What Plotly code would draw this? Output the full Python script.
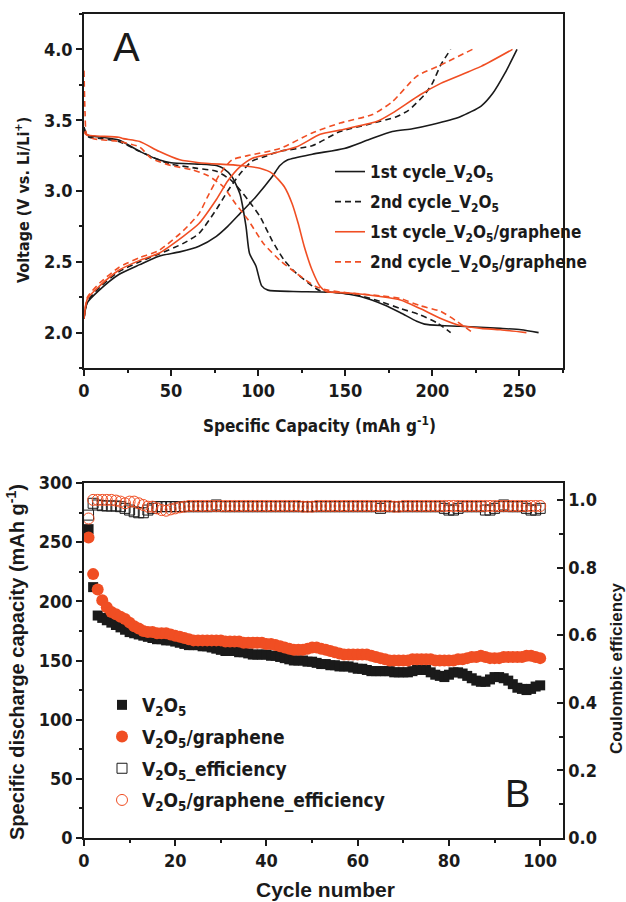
import plotly.graph_objects as go

# ---------------- Panel A data (Specific capacity vs voltage) ----------------
v1_dis_cap = [0, 0.5, 1.5, 3, 10, 20, 32, 43, 50, 65, 76, 80, 85, 89.5, 93, 95, 98.7, 102, 105.6, 120, 142.5, 158.7, 172.5, 181.7, 191, 195.5, 204.8, 216, 239, 251, 261]
v1_dis_v = [3.45, 3.42, 3.40, 3.39, 3.38, 3.36, 3.28, 3.22, 3.20, 3.19, 3.18, 3.16, 3.10, 2.98, 2.75, 2.56, 2.47, 2.33, 2.30, 2.29, 2.285, 2.255, 2.195, 2.14, 2.08, 2.06, 2.05, 2.045, 2.03, 2.02, 2.0]
v1_ch_cap = [0, 1.8, 8.8, 20, 32, 43, 55, 66, 76, 82.5, 89.5, 98.7, 108, 112.5, 117, 131, 149.4, 163, 177, 188.6, 200, 216, 228, 234.7, 241.6, 248.6]
v1_ch_v = [2.10, 2.21, 2.30, 2.41, 2.48, 2.54, 2.57, 2.61, 2.68, 2.75, 2.84, 2.96, 3.10, 3.18, 3.22, 3.26, 3.30, 3.36, 3.42, 3.44, 3.47, 3.525, 3.60, 3.69, 3.83, 4.0]

v2_dis_cap = [0, 0.5, 1.5, 3, 10, 20, 32, 43, 50, 65, 76, 85, 94, 101, 108, 115, 121.8, 131, 135.6, 147, 158.7, 170, 181.7, 193, 202.5, 210.5]
v2_dis_v = [3.45, 3.43, 3.40, 3.38, 3.37, 3.35, 3.28, 3.22, 3.19, 3.16, 3.14, 3.07, 2.94, 2.82, 2.65, 2.51, 2.42, 2.33, 2.295, 2.28, 2.26, 2.22, 2.17, 2.125, 2.07, 2.0]
v2_ch_cap = [0, 2, 9, 20, 32, 43, 57, 66, 76, 82.5, 89.5, 96.4, 103, 112.5, 131, 147, 163, 179.4, 186.3, 195.5, 200, 204.8, 210.5]
v2_ch_v = [2.10, 2.22, 2.32, 2.43, 2.50, 2.555, 2.63, 2.70, 2.87, 3.00, 3.12, 3.21, 3.24, 3.28, 3.32, 3.42, 3.47, 3.525, 3.57, 3.68, 3.76, 3.89, 4.0]

g1_dis_cap = [0, 1, 5, 20, 22.6, 32, 43, 55, 66, 89.5, 101, 108, 115, 119.5, 123, 126.4, 131, 135.6, 139, 152, 170, 181.7, 193, 204.8, 216, 228, 239, 254]
g1_dis_v = [3.42, 3.40, 3.39, 3.38, 3.37, 3.35, 3.28, 3.22, 3.20, 3.18, 3.16, 3.125, 3.03, 2.91, 2.77, 2.61, 2.44, 2.325, 2.29, 2.28, 2.255, 2.23, 2.17, 2.10, 2.05, 2.03, 2.02, 2.0]
g1_ch_cap = [0, 2, 9, 20, 32, 43, 57, 66, 76, 82.5, 89.5, 96.4, 108, 121.8, 135.6, 147, 168, 177, 193, 204.8, 228, 246]
g1_ch_v = [2.10, 2.24, 2.33, 2.44, 2.51, 2.56, 2.68, 2.77, 2.94, 3.07, 3.17, 3.23, 3.265, 3.31, 3.40, 3.43, 3.49, 3.55, 3.68, 3.76, 3.88, 4.0]

g2_dis_cap = [0, 0.6, 1.5, 5, 20, 32, 38.7, 50, 62, 71, 80, 87, 94, 103, 112.5, 121.8, 133, 140, 152, 170, 181.7, 193, 204.8, 214, 223]
g2_dis_v = [3.85, 3.55, 3.40, 3.37, 3.35, 3.31, 3.23, 3.18, 3.15, 3.11, 3.03, 2.91, 2.80, 2.63, 2.51, 2.42, 2.325, 2.30, 2.28, 2.26, 2.24, 2.19, 2.15, 2.08, 2.0]
g2_ch_cap = [0, 2, 9, 20, 32, 43, 57, 66, 71, 78, 85, 94, 112.5, 131, 147, 165.6, 177, 191, 204.8, 223]
g2_ch_v = [2.10, 2.25, 2.35, 2.46, 2.53, 2.58, 2.72, 2.84, 2.96, 3.12, 3.22, 3.25, 3.30, 3.41, 3.48, 3.54, 3.63, 3.81, 3.89, 4.0]

# ---------------- Panel B data (cycling) ----------------
cycles = list(range(1, 101))
cap_v2o5 = [261, 212, 188, 186, 184, 182, 180, 178, 176, 174,
            173, 172, 171, 170, 169, 168, 168, 167, 167, 166,
            165, 164, 163, 163, 163, 162, 162, 161, 160, 159,
            158, 158, 158, 157, 157, 156, 155, 155, 155, 155,
            154, 154, 153, 152, 151, 150, 150, 150, 149, 149,
            148, 147, 147, 146, 146, 145, 145, 145, 144, 143,
            143, 142, 141, 141, 141, 141, 141, 140, 140, 140,
            140, 141, 142, 142, 142, 140, 138, 137, 136, 138,
            140, 140, 139, 137, 135, 133, 132, 132, 134, 136,
            136, 135, 133, 130, 127, 126, 125, 126, 128, 129]
cap_graphene = [254, 223, 210, 201, 195, 191, 189, 187, 185, 182,
                179, 177, 175, 174, 174, 173, 173, 173, 172, 171,
                170, 169, 168, 167, 167, 167, 167, 167, 167, 167,
                166, 166, 166, 166, 165, 165, 165, 165, 165, 164,
                164, 163, 162, 161, 160, 159, 159, 159, 160, 161,
                161, 160, 159, 158, 157, 156, 155, 155, 155, 155,
                155, 155, 154, 153, 152, 151, 150, 150, 150, 150,
                150, 151, 151, 151, 151, 151, 150, 150, 150, 150,
                150, 151, 151, 152, 153, 153, 154, 153, 152, 152,
                152, 153, 153, 153, 153, 153, 154, 154, 153, 152]
eff_v2o5 = [0.955, 0.99, 0.985, 0.983, 0.982, 0.982, 0.982, 0.98, 0.975, 0.97,
            0.965, 0.962, 0.962, 0.97, 0.975, 0.98, 0.98, 0.98, 0.98, 0.98,
            0.98, 0.98, 0.98, 0.98, 0.98, 0.98, 0.98, 0.98, 0.985, 0.98,
            0.98, 0.98, 0.98, 0.98, 0.98, 0.98, 0.98, 0.98, 0.98, 0.98,
            0.98, 0.98, 0.98, 0.98, 0.98, 0.98, 0.98, 0.98, 0.98, 0.98,
            0.98, 0.98, 0.98, 0.98, 0.98, 0.98, 0.98, 0.98, 0.98, 0.98,
            0.98, 0.98, 0.98, 0.98, 0.975, 0.98, 0.98, 0.98, 0.98, 0.98,
            0.98, 0.98, 0.98, 0.98, 0.98, 0.98, 0.98, 0.98, 0.975, 0.97,
            0.97, 0.975, 0.98, 0.98, 0.98, 0.98, 0.98, 0.97, 0.97, 0.975,
            0.98, 0.985, 0.98, 0.98, 0.98, 0.98, 0.975, 0.97, 0.97, 0.975]
eff_graphene = [0.945, 1.0, 1.0, 1.0, 1.0, 1.0, 0.998, 0.995, 0.99, 0.995,
                0.995, 0.99, 0.985, 0.98, 0.98, 0.975, 0.97, 0.968, 0.972, 0.975,
                0.978, 0.98, 0.982, 0.982, 0.982, 0.982, 0.982, 0.982, 0.982, 0.982,
                0.982, 0.982, 0.982, 0.982, 0.982, 0.982, 0.982, 0.982, 0.982, 0.982,
                0.982, 0.982, 0.982, 0.982, 0.982, 0.982, 0.982, 0.98, 0.98, 0.98,
                0.982, 0.982, 0.982, 0.982, 0.982, 0.982, 0.982, 0.982, 0.982, 0.982,
                0.982, 0.982, 0.982, 0.982, 0.982, 0.982, 0.982, 0.98, 0.98, 0.982,
                0.982, 0.982, 0.982, 0.982, 0.982, 0.982, 0.982, 0.982, 0.982, 0.982,
                0.982, 0.982, 0.982, 0.982, 0.982, 0.982, 0.982, 0.982, 0.982, 0.982,
                0.982, 0.982, 0.982, 0.982, 0.982, 0.982, 0.982, 0.982, 0.982, 0.982]

BLACK = "#1a1a1a"
RED = "#f04e23"
NARROW = "DejaVu Sans Condensed, DejaVu Sans, sans-serif"
ARIAL = "Liberation Sans, Arial, sans-serif"
DASH = "6px,4px"

# figure geometry (pixels)
L, R, T, B = 84, 63, 14, 64
PW, PH = 626 - L - R, 902 - T - B

def px(xp):
    return (xp - L) / PW

def py(yp):
    return (902 - B - yp) / PH

fig = go.Figure()

def add_pair(cap_d, v_d, cap_c, v_c, color, dash, name, group):
    for i, (cx, vy) in enumerate([(cap_d, v_d), (cap_c, v_c)]):
        fig.add_trace(go.Scatter(x=cx, y=vy, mode="lines", name=name, legendgroup=group, showlegend=(i == 0),
                                 line=dict(color=color, width=1.6, dash=dash, shape="spline", smoothing=0.6),
                                 xaxis="x", yaxis="y", legend="legend"))

add_pair(v1_dis_cap, v1_dis_v, v1_ch_cap, v1_ch_v, BLACK, "solid", "1st cycle_V<sub>2</sub>O<sub>5</sub>", "a")
add_pair(v2_dis_cap, v2_dis_v, v2_ch_cap, v2_ch_v, BLACK, DASH, "2nd cycle_V<sub>2</sub>O<sub>5</sub>", "b")
add_pair(g1_dis_cap, g1_dis_v, g1_ch_cap, g1_ch_v, RED, "solid", "1st cycle_V<sub>2</sub>O<sub>5</sub>/graphene", "c")
add_pair(g2_dis_cap, g2_dis_v, g2_ch_cap, g2_ch_v, RED, DASH, "2nd cycle_V<sub>2</sub>O<sub>5</sub>/graphene", "d")

fig.add_trace(go.Scatter(x=cycles, y=cap_v2o5, mode="markers", name="V<sub>2</sub>O<sub>5</sub>", legendgroup="e",
                         marker=dict(symbol="square", size=10, color=BLACK), xaxis="x2", yaxis="y2", legend="legend2"))
fig.add_trace(go.Scatter(x=cycles, y=cap_graphene, mode="markers", name="V<sub>2</sub>O<sub>5</sub>/graphene", legendgroup="f",
                         marker=dict(symbol="circle", size=12, color=RED), xaxis="x2", yaxis="y2", legend="legend2"))
fig.add_trace(go.Scatter(x=cycles, y=eff_v2o5, mode="markers", name="V<sub>2</sub>O<sub>5</sub>_efficiency", legendgroup="g",
                         marker=dict(symbol="square-open", size=10, color=BLACK, line=dict(width=1)), xaxis="x2", yaxis="y3", legend="legend2"))
fig.add_trace(go.Scatter(x=cycles, y=eff_graphene, mode="markers", name="V<sub>2</sub>O<sub>5</sub>/graphene_efficiency", legendgroup="h",
                         marker=dict(symbol="circle-open", size=11, color=RED, line=dict(width=1)), xaxis="x2", yaxis="y3", legend="legend2"))

tickfont = dict(family=NARROW, size=18, color=BLACK, weight="bold")
common = dict(showline=True, linecolor=BLACK, linewidth=1.5, showgrid=False, zeroline=False, automargin=False,
              ticks="outside", ticklen=6, tickwidth=1.5, tickcolor=BLACK, tickfont=tickfont)

def title_ann(text, xp, yp, angle, family, size):
    return dict(text=text, x=px(xp), y=py(yp), xref="paper", yref="paper", xanchor="center", yanchor="middle",
                textangle=angle, showarrow=False, font=dict(family=family, size=size, color=BLACK, weight="bold"))

annotations = [
    title_ann("Specific Capacity (mAh g<sup>-1</sup>)", 319, 425, 0, NARROW, 17),
    title_ann("Voltage (V vs. Li/Li<sup>+</sup>)", 22, 200, -90, NARROW, 16),
    title_ann("Cycle number", 325, 889, 0, ARIAL, 21),
    title_ann("Specific discharge capacity (mAh g<sup>-1</sup>)", 15, 662, -90, ARIAL, 20),
    title_ann("Coulombic efficiency", 616, 668, -90, ARIAL, 17),
    dict(text="A", x=px(126), y=py(47), xref="paper", yref="paper", xanchor="center", yanchor="middle",
         showarrow=False, font=dict(family=ARIAL, size=40, color=BLACK)),
    dict(text="B", x=px(517), y=py(794), xref="paper", yref="paper", xanchor="center", yanchor="middle",
         showarrow=False, font=dict(family=ARIAL, size=38, color=BLACK)),
]

fig.update_layout(
    width=626, height=902,
    margin=dict(l=L, r=R, t=T, b=B, autoexpand=False),
    paper_bgcolor="white", plot_bgcolor="white",
    xaxis=dict(domain=[0, 1], range=[0, 275], dtick=50, mirror=True, anchor="y",
               minor=dict(dtick=25, ticks="outside", ticklen=3, tickcolor=BLACK, tickwidth=1.5), **common),
    yaxis=dict(domain=[py(368), 1], range=[1.75, 4.25], dtick=0.5, tickformat=".1f", mirror=True, anchor="x",
               minor=dict(dtick=0.25, ticks="outside", ticklen=3, tickcolor=BLACK, tickwidth=1.5), **common),
    xaxis2=dict(domain=[0, 1], range=[0, 105], dtick=20, mirror=True, anchor="y2",
                minor=dict(dtick=10, ticks="outside", ticklen=3, tickcolor=BLACK, tickwidth=1.5), **common),
    yaxis2=dict(domain=[0, py(483)], range=[0, 300], dtick=50, mirror=True, anchor="x2",
                minor=dict(dtick=25, ticks="outside", ticklen=3, tickcolor=BLACK, tickwidth=1.5), **common),
    yaxis3=dict(overlaying="y2", side="right", anchor="x2", range=[0, 1.05], dtick=0.2, tickformat=".1f",
                showline=True, linecolor=BLACK, linewidth=1.5, showgrid=False, zeroline=False, automargin=False,
                ticks="inside", ticklen=6, tickwidth=1.5, tickcolor=BLACK, tickfont=tickfont,
                minor=dict(dtick=0.1, ticks="inside", ticklen=4, tickcolor=BLACK, tickwidth=1.5)),
    legend=dict(x=px(330), y=py(154), xanchor="left", yanchor="top", bgcolor="rgba(0,0,0,0)",
                font=dict(family=NARROW, size=17, color=BLACK, weight="bold"), tracegroupgap=5, itemwidth=30),
    legend2=dict(x=px(102), y=py(686), xanchor="left", yanchor="top", bgcolor="rgba(0,0,0,0)",
                 font=dict(family=NARROW, size=19, color=BLACK, weight="bold"), tracegroupgap=4, itemwidth=30),
    showlegend=True,
    annotations=annotations,
)

fig.write_html("out.html", config={"displayModeBar": False},
               post_script="document.body.style.margin='0px';document.body.style.padding='0px';")
